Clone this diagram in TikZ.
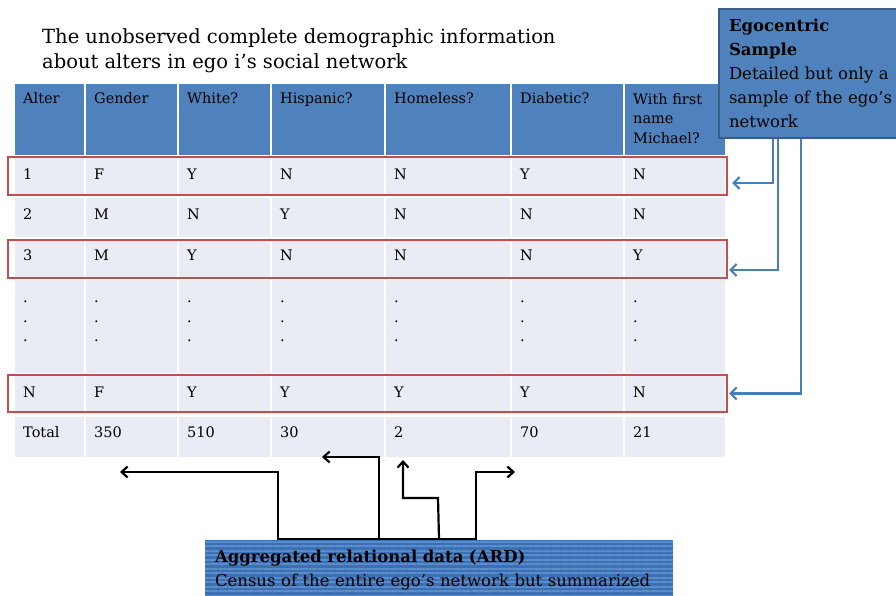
\documentclass[tikz,border=0pt]{standalone}
\usepackage{fontspec}
\setmainfont{DejaVu Serif}
\usetikzlibrary{arrows.meta,calc,patterns.meta}
\definecolor{headblue}{HTML}{4F81BD}
\definecolor{cellgray}{HTML}{E9EBF5}
\definecolor{selred}{HTML}{C0504D}
\definecolor{egoedge}{HTML}{385D8A}
\definecolor{arrowblue}{HTML}{4A7EBB}
\definecolor{arddark}{HTML}{3C70B4}
\definecolor{ardlight}{HTML}{5C8DCB}

\begin{document}
\begin{tikzpicture}[x=1pt, y=-1pt]
\tikzstyle{cellt}=[anchor=base west, inner sep=0pt, font=\fontsize{14.5}{19.5}\selectfont]
\tikzstyle{headt}=[anchor=north west, inner sep=0pt, align=left, font=\fontsize{14.5}{19.5}\selectfont]
\tikzstyle{selbox}=[rectangle, draw=selred, line width=2pt, minimum width=719pt, inner sep=0pt]
\tikzstyle{egobox}=[rectangle, fill=headblue, draw=egoedge, line width=2pt, anchor=north west, text width=170pt, inner xsep=10pt, minimum height=129pt, align=left, font=\fontsize{16.5}{24}\selectfont]
\tikzstyle{ardbox}=[rectangle, preaction={fill=arddark}, pattern={Lines[angle=0,distance=4.5pt,line width=2pt]}, pattern color=ardlight, anchor=north west, text width=448pt, inner xsep=10pt, minimum height=60pt, align=left, font=\fontsize{16.5}{24}\selectfont]
\tikzstyle{bluestyle}=[draw=arrowblue, line width=2.2pt, -{Straight Barb[length=6pt,width=12pt]}]
\tikzstyle{blackstyle}=[draw=black, line width=2.2pt, -{Straight Barb[length=6pt,width=11pt]}]

\useasboundingbox (0,0) rectangle (896,596);

\node[anchor=north west, inner sep=0pt, align=left, font=\fontsize{19.5}{25}\selectfont] (title) at (42,28) {The unobserved complete demographic information\\about alters in ego i’s social network};

% table background
\fill[cellgray] (15,156) rectangle (725,457);
\fill[headblue] (15,84) rectangle (725,156);
\draw[white, line width=2.5pt] (85,84) -- (85,457) (178,84) -- (178,457) (271,84) -- (271,457) (385,84) -- (385,457) (511,84) -- (511,457) (624,84) -- (624,457);
\draw[white, line width=2.5pt] (15,156.5) -- (725,156.5) (15,196.5) -- (725,196.5) (15,238.5) -- (725,238.5) (15,278.5) -- (725,278.5) (15,374.5) -- (725,374.5) (15,415.5) -- (725,415.5);

% header
\node[cellt] (T0x0) at (23,104) {Alter};
\node[cellt] (T1x0) at (94,104) {Gender};
\node[cellt] (T2x0) at (187,104) {White?};
\node[cellt] (T3x0) at (280,104) {Hispanic?};
\node[cellt] (T4x0) at (394,104) {Homeless?};
\node[cellt] (T5x0) at (520,104) {Diabetic?};
\node[headt] (T6x0) at (633,93) {With first\\name\\Michael?};

% rows
\node[cellt] (T0x1) at (23,179) {1};
\node[cellt] (T1x1) at (94,179) {F};
\node[cellt] (T2x1) at (187,179) {Y};
\node[cellt] (T3x1) at (280,179) {N};
\node[cellt] (T4x1) at (394,179) {N};
\node[cellt] (T5x1) at (520,179) {Y};
\node[cellt] (T6x1) at (633,179) {N};

\node[cellt] (T0x2) at (23,219) {2};
\node[cellt] (T1x2) at (94,219) {M};
\node[cellt] (T2x2) at (187,219) {N};
\node[cellt] (T3x2) at (280,219) {Y};
\node[cellt] (T4x2) at (394,219) {N};
\node[cellt] (T5x2) at (520,219) {N};
\node[cellt] (T6x2) at (633,219) {N};

\node[cellt] (T0x3) at (23,260) {3};
\node[cellt] (T1x3) at (94,260) {M};
\node[cellt] (T2x3) at (187,260) {Y};
\node[cellt] (T3x3) at (280,260) {N};
\node[cellt] (T4x3) at (394,260) {N};
\node[cellt] (T5x3) at (520,260) {N};
\node[cellt] (T6x3) at (633,260) {Y};

\node[headt] (T0x4) at (23,301) {.\\.\\.};
\node[headt] (T1x4) at (94,301) {.\\.\\.};
\node[headt] (T2x4) at (187,301) {.\\.\\.};
\node[headt] (T3x4) at (280,301) {.\\.\\.};
\node[headt] (T4x4) at (394,301) {.\\.\\.};
\node[headt] (T5x4) at (520,301) {.\\.\\.};
\node[headt] (T6x4) at (633,301) {.\\.\\.};

\node[cellt] (T0x5) at (23,397) {N};
\node[cellt] (T1x5) at (94,397) {F};
\node[cellt] (T2x5) at (187,397) {Y};
\node[cellt] (T3x5) at (280,397) {Y};
\node[cellt] (T4x5) at (394,397) {Y};
\node[cellt] (T5x5) at (520,397) {Y};
\node[cellt] (T6x5) at (633,397) {N};

\node[cellt] (T0x6) at (23,437) {Total};
\node[cellt] (T1x6) at (94,437) {350};
\node[cellt] (T2x6) at (187,437) {510};
\node[cellt] (T3x6) at (280,437) {30};
\node[cellt] (T4x6) at (394,437) {2};
\node[cellt] (T5x6) at (520,437) {70};
\node[cellt] (T6x6) at (633,437) {21};

% sampled rows
\node[selbox, minimum height=38pt] (sel1) at (367.5,176) {};
\node[selbox, minimum height=38pt] (sel3) at (367.5,259) {};
\node[selbox, minimum height=37pt] (selN) at (367.5,393.5) {};

\node[egobox] (ego) at (718,8) {\textbf{Egocentric}\\\textbf{Sample}\\Detailed but only a\\sample of the ego’s\\network};
\draw[bluestyle] ($(ego.south west)+(55,0)$) |- ($(sel1.east)+(4,7)$);
\draw[bluestyle] ($(ego.south west)+(60,0)$) |- ($(sel3.east)+(1,11)$);
\draw[bluestyle] ($(ego.south west)+(83,0)$) |- ($(selN.east)+(1,0)$);

\node[ardbox] (ard) at (204,539) {\textbf{Aggregated relational data (ARD)}\\Census of the entire ego’s network but summarized};
\coordinate (tot1) at (120,472);
\coordinate (tot2) at (322,457);
\coordinate (tot3) at (403,460);
\coordinate (tot4) at (515,472);
\draw[blackstyle] (ard.north) -| (278,472) -- (tot1);
\draw[blackstyle] (ard.north) -| (379,457) -- (tot2);
\draw[blackstyle] (ard.north) -- (438,498) -| (tot3);
\draw[blackstyle] (ard.north) -| (476,472) -- (tot4);
\end{tikzpicture}
\end{document}
